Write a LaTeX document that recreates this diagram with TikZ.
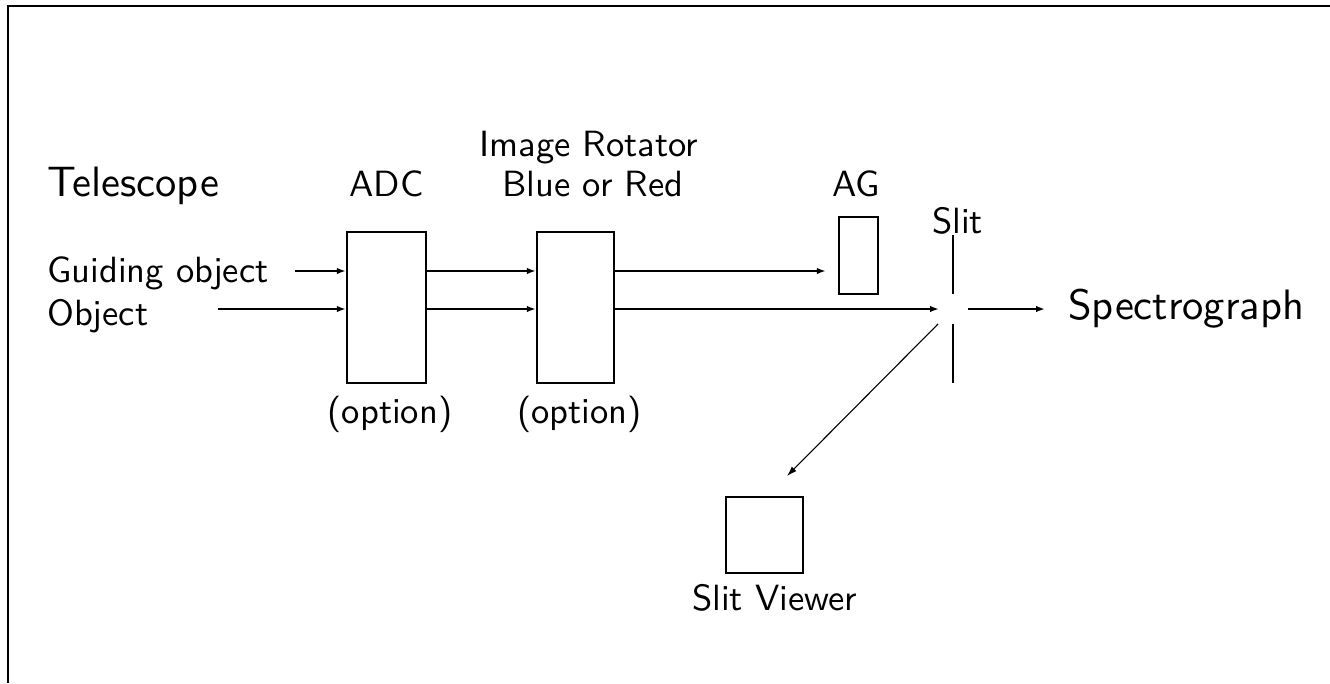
\documentclass[tikz,border=0pt]{standalone}
\usepackage{fontspec}
\newfontfamily\lmsten{lmsans10-regular.otf}
\usetikzlibrary{arrows.meta}
\begin{document}
\begin{tikzpicture}[x=1pt,y=-1pt,
  txt/.style={inner sep=0pt,font=\lmsten\fontsize{36.5}{44}\selectfont},
  bigtxt/.style={inner sep=0pt,font=\lmsten\fontsize{42.5}{51}\selectfont},
  box/.style={draw,line width=2.3pt,inner sep=0pt,minimum width=#1},
  beam/.style={line width=2.5pt,-{Latex[length=9pt,width=6.5pt]}},
  thinbeam/.style={line width=1.1pt,-{Latex[length=10pt,width=6.5pt]}},
  slitbar/.style={line width=2.9pt},
  frame/.style={line width=2pt}]
\useasboundingbox (0,0) rectangle (1330,683);
% frame (top and left only)
\draw[frame] (8,683) -- (8,6) -- (1330,6);
% labels
\node[bigtxt,anchor=base west] (tel) at (47,196) {Telescope};
\node[txt,anchor=base] (adcl) at (386.5,196) {ADC};
\node[txt,anchor=base] (rotl1) at (589,156) {Image Rotator};
\node[txt,anchor=base] (rotl2) at (593,196) {Blue or Red};
\node[txt,anchor=base] (agl) at (856,196) {AG};
\node[txt,anchor=base west] (slitl) at (932,233) {Slit};
\node[txt,anchor=base west] (guide) at (47,282) {Guiding object};
\node[txt,anchor=base west] (obj) at (47,325) {Object};
\node[bigtxt,anchor=base west] (spec) at (1068,319) {Spectrograph};
\node[txt,anchor=base] (opt1) at (390,423) {(option)};
\node[txt,anchor=base] (opt2) at (579.5,423) {(option)};
\node[txt,anchor=base] (svl) at (774.5,610) {Slit Viewer};
% boxes
\node[box=79pt,minimum height=151pt] (adc) at (386.5,307.5) {};
\node[box=77pt,minimum height=151pt] (rot) at (575.5,307.5) {};
\node[box=39pt,minimum height=77pt] (ag) at (858.5,255.5) {};
\node[box=77pt,minimum height=76pt] (sv) at (764.5,535) {};
% beam reference points
\coordinate (g0) at (295,271);
\coordinate (o0) at (218,309);
\coordinate (slitc) at (953,309);
\coordinate (svtip) at (787,476);
% slit bars
\draw[slitbar] (953,235) -- (953,294);
\draw[slitbar] (953,324) -- (953,383);
% beams
\draw[beam] (g0) -- (adc.west |- g0);
\draw[beam] (o0) -- (adc.west |- o0);
\draw[beam] (adc.east |- g0) -- (rot.west |- g0);
\draw[beam] (adc.east |- o0) -- (rot.west |- o0);
\draw[beam] (rot.east |- g0) -- ([xshift=-12pt]ag.west |- g0);
\draw[beam] (rot.east |- o0) -- ([shift={(-14,0)}]slitc);
\draw[beam] ([shift={(15,0)}]slitc) -- ([shift={(-23,-10)}]spec.base west);
\draw[thinbeam] ([shift={(-15,15)}]slitc) -- (svtip);
\end{tikzpicture}
\end{document}
